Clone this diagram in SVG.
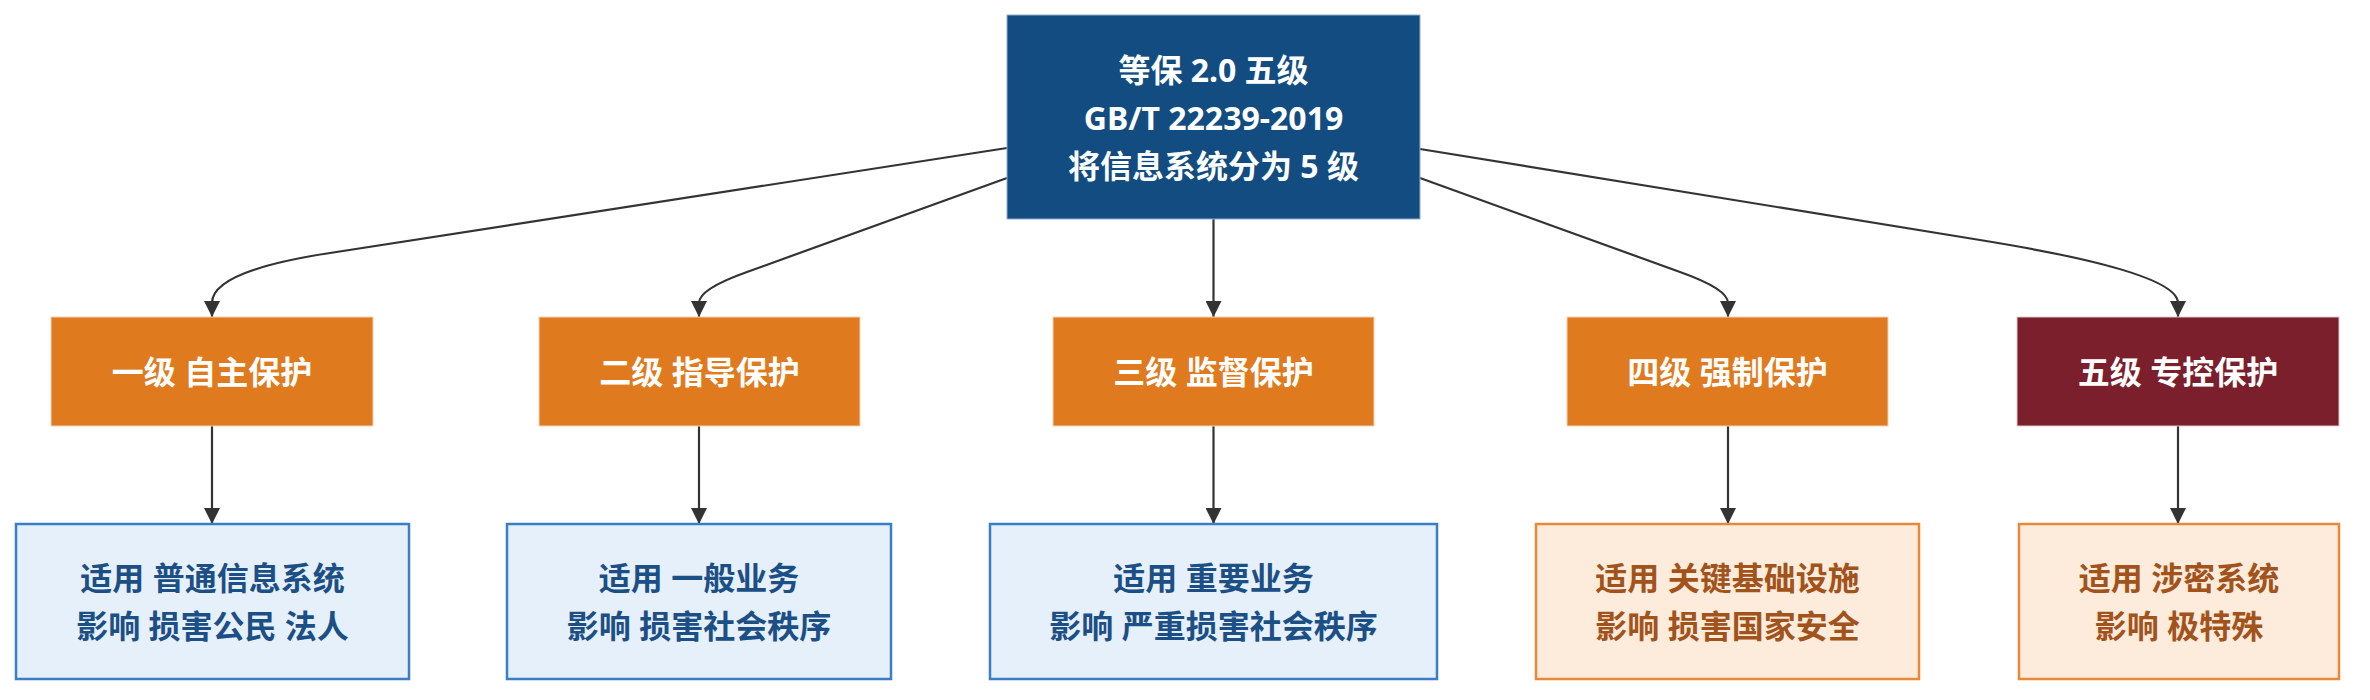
<svg xmlns="http://www.w3.org/2000/svg" width="2370" height="700" viewBox="0 0 2370 700">
<style>
text{font-family:"Noto Sans","Noto Sans CJK SC",sans-serif;font-weight:bold;font-size:32px;text-anchor:middle;dominant-baseline:central}
.top rect{fill:#124C80;stroke:#8FB0D0;stroke-width:1}
.top text{fill:#ffffff}
.lvl rect{fill:#E07A1F;stroke:#F5D3B5;stroke-width:1}
.lvl text{fill:#ffffff}
.lvl5 rect{fill:#7B1F2D;stroke:#E0C8CC;stroke-width:1}
.db rect{fill:#E6F0FA;stroke:#3A7EC6;stroke-width:2.5}
.db text{fill:#1B4F85}
.do rect{fill:#FDEBDB;stroke:#E8893A;stroke-width:2.5}
.do text{fill:#A2531C}
.edges path{fill:none;stroke:#333333;stroke-width:2.2}
</style>
<defs>
<marker id="arr" viewBox="0 0 10 10" refX="10" refY="5" markerUnits="userSpaceOnUse" markerWidth="16" markerHeight="16" orient="auto">
<path d="M0,0 L10,5 L0,10 z" fill="#333333"/>
</marker>
</defs>
<rect x="0" y="0" width="2370" height="700" fill="#ffffff"/>
<g class="edges">
<path d="M1007,148 L330,253 Q212,271 212,303 L212,317" marker-end="url(#arr)"/>
<path d="M1007,178 L747,272 Q699,289 699,303 L699,317" marker-end="url(#arr)"/>
<path d="M1213.5,219 L1213.5,317" marker-end="url(#arr)"/>
<path d="M1420,178 L1680,272 Q1728,289 1728,303 L1728,317" marker-end="url(#arr)"/>
<path d="M1420,149 L1980,240 Q2178,272 2178,303 L2178,317" marker-end="url(#arr)"/>
<path d="M212,426 L212,524" marker-end="url(#arr)"/>
<path d="M699,426 L699,524" marker-end="url(#arr)"/>
<path d="M1213.5,426 L1213.5,524" marker-end="url(#arr)"/>
<path d="M1728,426 L1728,524" marker-end="url(#arr)"/>
<path d="M2178,426 L2178,524" marker-end="url(#arr)"/>
</g>
<g id="n0" class="top">
<rect x="1007" y="15" width="413" height="204"/>
<text x="1213.5" y="69">等保 2.0 五级</text>
<text x="1213.5" y="117">GB/T 22239-2019</text>
<text x="1213.5" y="165">将信息系统分为 5 级</text>
</g>
<g id="l1" class="lvl">
<rect x="51" y="317" width="322" height="109"/>
<text x="212" y="371.5">一级 自主保护</text>
</g>
<g id="l2" class="lvl">
<rect x="539" y="317" width="321" height="109"/>
<text x="699.5" y="371.5">二级 指导保护</text>
</g>
<g id="l3" class="lvl">
<rect x="1053" y="317" width="321" height="109"/>
<text x="1213.5" y="371.5">三级 监督保护</text>
</g>
<g id="l4" class="lvl">
<rect x="1567" y="317" width="321" height="109"/>
<text x="1727.5" y="371.5">四级 强制保护</text>
</g>
<g id="l5" class="lvl lvl5">
<rect x="2017" y="317" width="322" height="109"/>
<text x="2178" y="371.5">五级 专控保护</text>
</g>
<g id="d1" class="db">
<rect x="16" y="524" width="393" height="155"/>
<text x="212.5" y="577">适用 普通信息系统</text>
<text x="212.5" y="625.5">影响 损害公民 法人</text>
</g>
<g id="d2" class="db">
<rect x="507" y="524" width="384" height="155"/>
<text x="699" y="577">适用 一般业务</text>
<text x="699" y="625.5">影响 损害社会秩序</text>
</g>
<g id="d3" class="db">
<rect x="990" y="524" width="447" height="155"/>
<text x="1213.5" y="577">适用 重要业务</text>
<text x="1213.5" y="625.5">影响 严重损害社会秩序</text>
</g>
<g id="d4" class="do">
<rect x="1536" y="524" width="383" height="155"/>
<text x="1727.5" y="577">适用 关键基础设施</text>
<text x="1727.5" y="625.5">影响 损害国家安全</text>
</g>
<g id="d5" class="do">
<rect x="2019" y="524" width="320" height="155"/>
<text x="2179" y="577">适用 涉密系统</text>
<text x="2179" y="625.5">影响 极特殊</text>
</g>
</svg>
